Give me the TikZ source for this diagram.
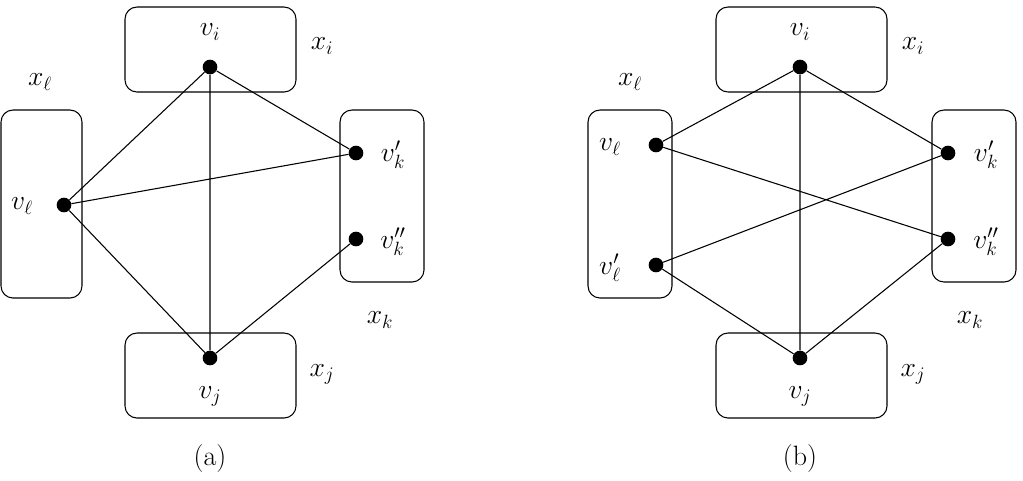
\documentclass[tikz,border=0pt]{standalone}
\begin{document}
\begin{tikzpicture}[x=0.75pt,y=-0.75pt,
  box/.style={draw,rounded corners=9pt,line width=0.8pt},
  dot/.style={circle,fill=black,inner sep=0pt,minimum size=11pt},
  lab/.style={font=\fontsize{21}{25}\selectfont,inner sep=0pt},
  e/.style={line width=0.8pt}]
\useasboundingbox (0,0) rectangle (1023,480);
% panel a
\draw[box] (125,7) rectangle (296,92);
\draw[box] (1,110) rectangle (82,298);
\draw[box] (340,110) rectangle (424,282);
\draw[box] (125,333) rectangle (296,418);
\node[dot] (ai) at (210,67) {};
\node[dot] (al) at (64,205) {};
\node[dot] (ak1) at (356,153) {};
\node[dot] (ak2) at (356,239) {};
\node[dot] (aj) at (210,358) {};
\node[lab] (lai) at (210,32) {$v_i$};
\node[lab] (lal) at (22,206) {$v_\ell$};
\node[lab] (lak1) at (393,155) {$v_k'$};
\node[lab] (lak2) at (393,242) {$v_k''$};
\node[lab] (laj) at (210,396) {$v_j$};
\node[lab] (xai) at (322,46) {$x_i$};
\node[lab] (xal) at (40,82) {$x_\ell$};
\node[lab] (xak) at (380,320) {$x_k$};
\node[lab] (xaj) at (322,374) {$x_j$};
\node[lab] (ca) at (210,458) {(a)};
\draw[e] (ai)--(al) (ai)--(aj) (ai)--(ak1) (al)--(ak1) (al)--(aj) (aj)--(ak2);
% panel b
\draw[box] (716,7) rectangle (887,92);
\draw[box] (588,110) rectangle (672,298);
\draw[box] (932,110) rectangle (1016,282);
\draw[box] (716,333) rectangle (887,418);
\node[dot] (bi) at (800,67) {};
\node[dot] (bl1) at (656,145) {};
\node[dot] (bl2) at (656,265) {};
\node[dot] (bk1) at (948,153) {};
\node[dot] (bk2) at (948,239) {};
\node[dot] (bj) at (800,358) {};
\node[lab] (lbi) at (800,32) {$v_i$};
\node[lab] (lbl1) at (610,147) {$v_\ell$};
\node[lab] (lbl2) at (610,268) {$v_\ell'$};
\node[lab] (lbk1) at (986,155) {$v_k'$};
\node[lab] (lbk2) at (986,242) {$v_k''$};
\node[lab] (lbj) at (800,396) {$v_j$};
\node[lab] (xbi) at (913,46) {$x_i$};
\node[lab] (xbl) at (630,82) {$x_\ell$};
\node[lab] (xbk) at (970,320) {$x_k$};
\node[lab] (xbj) at (913,374) {$x_j$};
\node[lab] (cb) at (800,458) {(b)};
\draw[e] (bi)--(bl1) (bi)--(bj) (bi)--(bk1) (bl1)--(bk2) (bl2)--(bk1) (bl2)--(bj) (bj)--(bk2);
\end{tikzpicture}
\end{document}
